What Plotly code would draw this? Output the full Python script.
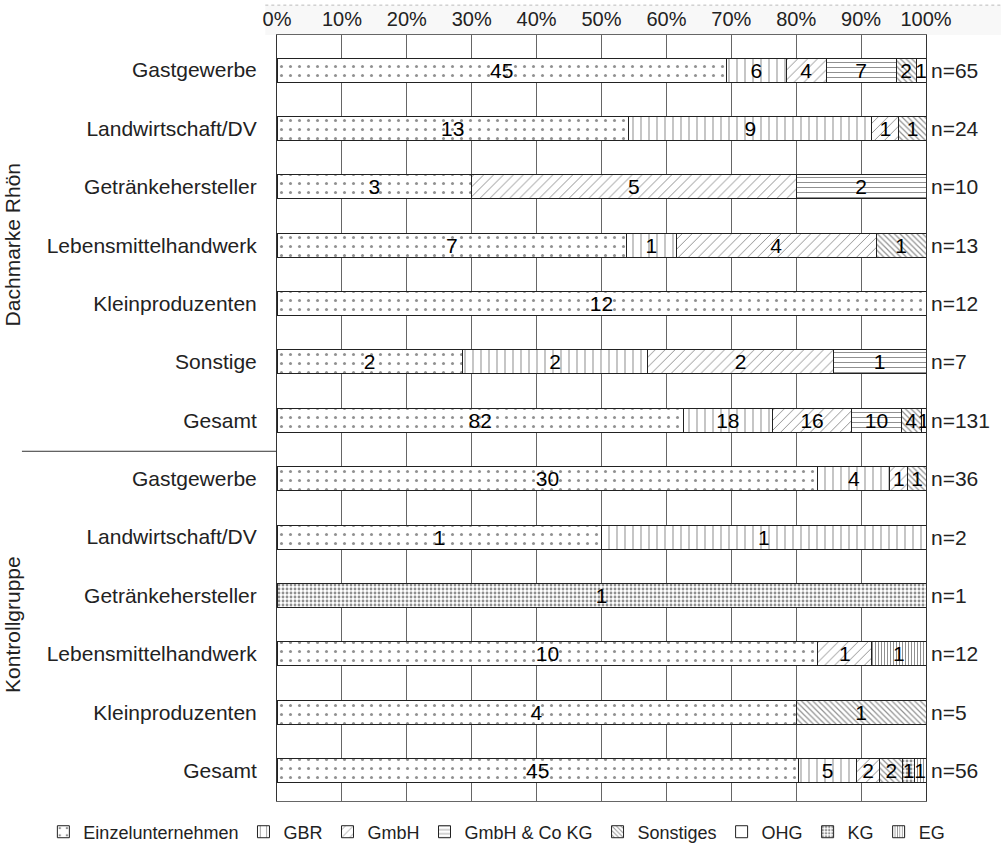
import plotly.graph_objects as go

categories = ["Gastgewerbe", "Landwirtschaft/DV", "Getränkehersteller", "Lebensmittelhandwerk",
              "Kleinproduzenten", "Sonstige", "Gesamt",
              "Gastgewerbe", "Landwirtschaft/DV", "Getränkehersteller", "Lebensmittelhandwerk",
              "Kleinproduzenten", "Gesamt"]
groups = ["Dachmarke Rhön", "Kontrollgruppe"]
group_rows = [(0, 6), (7, 12)]

series_names = ["Einzelunternehmen", "GBR", "GmbH", "GmbH & Co KG", "Sonstiges", "OHG", "KG", "EG"]
einzel    = [45, 13, 3, 7, 12, 2, 82, 30, 1, 0, 10, 4, 45]
gbr       = [6, 9, 0, 1, 0, 2, 18, 4, 1, 0, 0, 0, 5]
gmbh      = [4, 1, 5, 4, 0, 2, 16, 1, 0, 0, 1, 0, 2]
gmbhco    = [7, 0, 2, 0, 0, 1, 10, 0, 0, 0, 0, 0, 0]
sonstiges = [2, 1, 0, 1, 0, 0, 4, 1, 0, 0, 0, 1, 2]
ohg       = [1, 0, 0, 0, 0, 0, 1, 0, 0, 0, 0, 0, 0]
kg        = [0, 0, 0, 0, 0, 0, 0, 0, 0, 1, 0, 0, 1]
eg        = [0, 0, 0, 0, 0, 0, 0, 0, 0, 0, 1, 0, 1]
series_values = [einzel, gbr, gmbh, gmbhco, sonstiges, ohg, kg, eg]
x_ticks = [0, 10, 20, 30, 40, 50, 60, 70, 80, 90, 100]

patterns = [
    dict(shape=".", size=9, solidity=0.09),
    dict(shape="|", size=8, solidity=0.13),
    dict(shape="/", size=7, solidity=0.14),
    dict(shape="-", size=5, solidity=0.2),
    dict(shape="\\", size=4, solidity=0.3),
    dict(shape="", size=8, solidity=0.2),
    dict(shape=".", size=4, solidity=0.4),
    dict(shape="|", size=3, solidity=0.35),
]

FONT = "Liberation Sans, Arial, sans-serif"
FS = 21
totals = [sum(v[i] for v in series_values) for i in range(len(categories))]
ypos = list(range(len(categories)))

fig = go.Figure()
for name, vals, pat in zip(series_names, series_values, patterns):
    pct = [v / t * 100 for v, t in zip(vals, totals)]
    fig.add_trace(go.Bar(
        y=ypos, x=pct, orientation="h", name=name,
        width=0.41,
        text=[str(v) if v else "" for v in vals],
        textposition="inside", insidetextanchor="middle", textangle=0,
        textfont=dict(family=FONT, size=FS, color="black"),
        marker=dict(color="white",
                    line=dict(color="#222", width=1),
                    pattern=dict(shape=pat["shape"], size=pat["size"], solidity=pat["solidity"],
                                 fgcolor="#222", bgcolor="white", fillmode="overlay")),
        hoverinfo="skip",
    ))

annotations = []
for i, t in enumerate(totals):
    annotations.append(dict(x=100, y=i, xref="x", yref="y", text=f"n={t}", showarrow=False,
                            xanchor="left", xshift=3, font=dict(family=FONT, size=FS, color="#222")))
for g, (a, b) in zip(groups, group_rows):
    annotations.append(dict(x=-0.408, y=(a + b) / 2, xref="paper", yref="y", text=g, showarrow=False,
                            textangle=-90, xanchor="center", yanchor="middle",
                            font=dict(family=FONT, size=FS, color="#222")))

shapes = [
    dict(type="rect", xref="paper", yref="paper", x0=-0.018, x1=1.12, y0=1.0, y1=1.039,
         fillcolor="#f8f8f8", line=dict(width=0), layer="below"),
    dict(type="line", xref="paper", yref="paper", x0=-0.018, x1=1.12, y0=1.039, y1=1.039,
         line=dict(color="#bbb", width=1, dash="dot")),
    dict(type="line", xref="paper", yref="y", x0=-0.393, x1=0, y0=6.53, y1=6.53,
         line=dict(color="#333", width=1)),
]

fig.update_layout(
    width=1001, height=854,
    barmode="stack",
    paper_bgcolor="white", plot_bgcolor="white",
    margin=dict(l=277, r=75, t=35, b=53, autoexpand=False),
    font=dict(family=FONT, size=FS, color="#222"),
    uniformtext=dict(minsize=FS, mode="show"),
    xaxis=dict(side="top", range=[0, 100], tickvals=x_ticks, ticktext=[f"{v}%" for v in x_ticks],
               showgrid=True, gridcolor="#666", gridwidth=1, zeroline=False,
               showline=True, mirror=True, linecolor="#666", linewidth=1, automargin=False,
               tickfont=dict(size=20, color="#222"), ticks="", fixedrange=True),
    yaxis=dict(range=[12.52, -0.6], tickvals=ypos, ticktext=categories,
               showgrid=False, zeroline=False, showline=True, mirror=True, automargin=False,
               linecolor="#333", linewidth=1, ticks="", ticklabelstandoff=15,
               tickfont=dict(size=FS, color="#222"), fixedrange=True),
    legend=dict(orientation="h", xref="paper", yref="paper",
                x=-0.36, xanchor="left", y=-0.0405, yanchor="middle",
                font=dict(size=18, color="#222"), traceorder="normal", itemwidth=30,
                tracegroupgap=0, borderwidth=0),
    showlegend=True,
    annotations=annotations,
    shapes=shapes,
)

fig.write_html("out.html", config={"displayModeBar": False},
               post_script="document.body.style.margin='0px';")
